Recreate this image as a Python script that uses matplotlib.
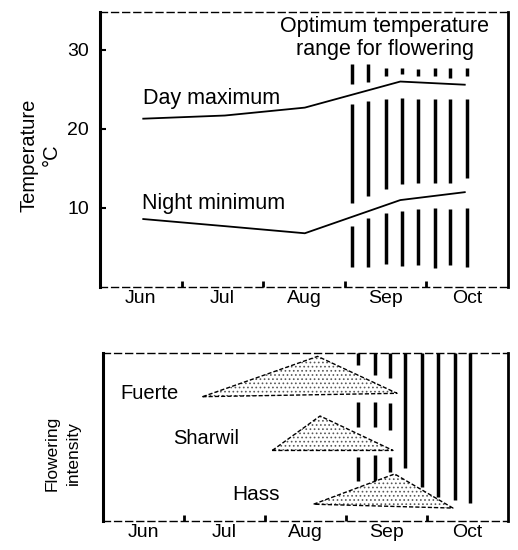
import matplotlib
matplotlib.use("Agg")
import matplotlib.pyplot as plt
from matplotlib.patches import Polygon

plt.rcParams['font.family'] = ['Liberation Sans', 'DejaVu Sans']
plt.rcParams['hatch.linewidth'] = 0.7

# ---------------- data ----------------
months = ["Jun", "Jul", "Aug", "Sep", "Oct"]
month_pos = [0.5, 1.5, 2.5, 3.5, 4.5]
month_bounds = [1, 2, 3, 4]

temp_x = [0.53, 1.53, 2.51, 3.68, 4.47]
day_max = [21.3, 21.7, 22.7, 26.0, 25.6]
night_min = [8.6, 7.7, 6.8, 11.0, 12.0]
temp_ticks = [10, 20, 30]

# optimum-range hatch (top panel): x positions and segment limits (deg C)
opt_x = [3.09, 3.29, 3.50, 3.70, 3.90, 4.11, 4.29, 4.50]
opt_low = [2.5, 2.5, 2.9, 2.7, 2.8, 2.4, 2.8, 2.5]
night_gap_lo = [7.7, 8.7, 9.4, 9.6, 9.9, 10.0, 9.9, 10.0]
night_gap_hi = [10.6, 11.5, 12.4, 13.0, 13.1, 13.1, 13.1, 13.8]
day_gap_lo = [23.2, 23.5, 23.8, 23.9, 23.8, 23.8, 23.8, 23.8]
day_gap_hi = [25.7, 25.9, 26.7, 27.0, 26.7, 26.7, 26.4, 26.7]
opt_high = [28.2, 28.2, 27.7, 27.7, 27.6, 27.7, 27.7, 27.7]

# flowering triangles (x in months, y in relative intensity)
cultivars = ["Fuerte", "Sharwil", "Hass"]
tri_start = [(1.23, 0.74), (2.09, 0.42), (2.60, 0.10)]
tri_peak = [(2.65, 0.98), (2.68, 0.625), (3.60, 0.28)]
tri_end = [(3.63, 0.76), (3.58, 0.42), (4.32, 0.077)]

# optimum-range hatch (bottom panel)
flow_x = [3.15, 3.36, 3.54, 3.73, 3.94, 4.14, 4.35, 4.53]
flow_segments = [
    [(0.93, 1.0), (0.56, 0.71), (0.24, 0.38)],
    [(0.87, 1.0), (0.56, 0.71), (0.21, 0.39)],
    [(0.85, 1.0), (0.54, 0.70), (0.29, 0.38)],
    [(0.315, 1.0)],
    [(0.20, 1.0)],
    [(0.14, 1.0)],
    [(0.125, 1.0)],
    [(0.107, 1.0)],
]

# ---------------- figure ----------------
fig = plt.figure(figsize=(5.18, 5.5), dpi=100)
ax1 = fig.add_axes([100/518, 1-287/550, 408/518, 275/550])
ax2 = fig.add_axes([103/518, 1-521/550, 405/518, 168/550])

def style_axes(ax):
    ax.set_xlim(0, 5)
    ax.spines['left'].set_linewidth(2.2)
    ax.spines['right'].set_linewidth(2.0)
    for s in ['top', 'bottom']:
        ax.spines[s].set_linewidth(1.0)
        ax.spines[s].set_linestyle((0, (5, 3)))
    ax.set_xticks(month_bounds)
    ax.set_xticks(month_pos, minor=True)
    ax.set_xticklabels([])
    ax.set_xticklabels(months, minor=True, fontsize=14)
    ax.tick_params(axis='x', which='major', direction='in', length=4, width=2)
    ax.tick_params(axis='x', which='minor', length=0, pad=2)

# top panel
style_axes(ax1)
ax1.set_ylim(0, 34.8)
ax1.set_yticks(temp_ticks)
ax1.set_yticklabels([str(t) for t in temp_ticks], fontsize=14)
ax1.tick_params(axis='y', direction='in', length=4, width=1.5, pad=8)

ax1.plot(temp_x, day_max, color='black', lw=1.3)
ax1.plot(temp_x, night_min, color='black', lw=1.3)

for i, x in enumerate(opt_x):
    for lo, hi in [(opt_low[i], night_gap_lo[i]),
                   (night_gap_hi[i], day_gap_lo[i]),
                   (day_gap_hi[i], opt_high[i])]:
        ax1.plot([x, x], [lo, hi], color='black', lw=2.5, solid_capstyle='butt')

ax1.text(0.53, 23.9, "Day maximum", fontsize=15.5, ha='left', va='center')
ax1.text(0.52, 10.6, "Night minimum", fontsize=15.5, ha='left', va='center')
ax1.text(3.49, 31.5, "Optimum temperature\nrange for flowering", fontsize=15.5,
         ha='center', va='center', linespacing=1.1)

fig.text(40/518, 1-155/550, "Temperature\n°C", rotation=90, fontsize=14.5,
         ha='center', va='center', multialignment='center', linespacing=1.25)

# bottom panel
style_axes(ax2)
ax2.set_ylim(0, 1)
ax2.set_yticks([])

for i, x in enumerate(flow_x):
    for lo, hi in flow_segments[i]:
        ax2.plot([x, x], [lo, hi], color='black', lw=2.5, solid_capstyle='butt')

for name, a, b, c in zip(cultivars, tri_start, tri_peak, tri_end):
    poly = Polygon([a, b, c], closed=True, facecolor='white', edgecolor='0.35',
                   hatch='....', lw=0, zorder=3)
    ax2.add_patch(poly)
    xs = [a[0], b[0], c[0], a[0]]
    ys = [a[1], b[1], c[1], a[1]]
    ax2.plot(xs, ys, color='black', lw=1.0, ls=(0, (3, 1.5)), zorder=4)

ax2.text(0.21, 0.76, "Fuerte", fontsize=14.5, ha='left', va='center')
ax2.text(0.86, 0.49, "Sharwil", fontsize=14.5, ha='left', va='center')
ax2.text(1.60, 0.155, "Hass", fontsize=15, ha='left', va='center')

fig.text(63/518, 1-453/550, "Flowering\nintensity", rotation=90, fontsize=12.5,
         ha='center', va='center', multialignment='center', linespacing=1.5)

fig.savefig("out.png", dpi=100)
